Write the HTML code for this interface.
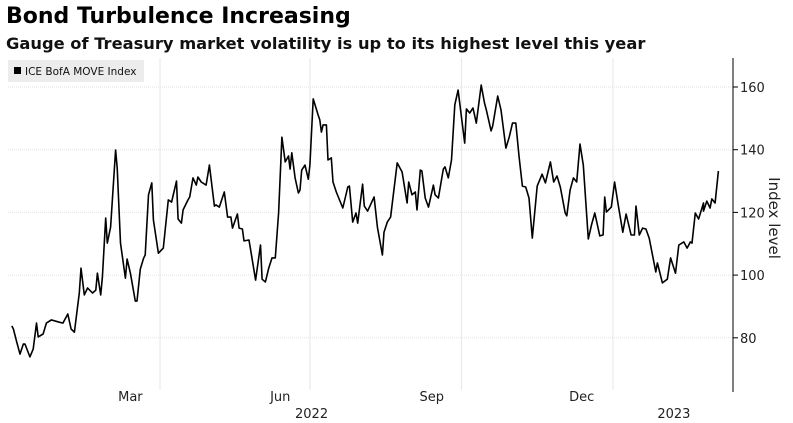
<!DOCTYPE html>
<html><head><meta charset="utf-8"><style>
body{margin:0;background:#fff;width:793px;height:423px;overflow:hidden;font-family:"DejaVu Sans","Liberation Sans",sans-serif;}
#t{position:absolute;left:6px;top:4px;font-size:22px;font-weight:bold;color:#000;white-space:nowrap;}
#s{position:absolute;left:6px;top:34px;font-size:16.3px;font-weight:bold;color:#111;white-space:nowrap;}
svg{position:absolute;left:0;top:0;font-family:"DejaVu Sans","Liberation Sans",sans-serif;}
</style></head><body>
<div id="t">Bond Turbulence Increasing</div>
<div id="s">Gauge of Treasury market volatility is up to its highest level this year</div>
<svg id="c" width="793" height="423"></svg>
<script>
const days=[0,1,3,5,7,8,11,13,15,16,19,21,24,28,31,34,36,38,41,42,44,46,49,51,52,54,55,57,58,60,63,64,66,69,70,72,75,76,78,80,81,83,85,86,89,92,95,97,100,101,103,104,107,108,110,112,113,115,118,120,123,124,126,129,131,133,134,137,138,140,141,144,148,151,152,154,156,158,160,162,164,166,168,169,170,172,174,175,176,178,180,181,183,186,187,188,189,191,192,194,195,197,201,204,205,207,209,210,213,214,216,220,222,225,226,228,230,234,237,240,241,243,245,246,248,249,251,253,256,257,259,262,263,265,267,269,271,275,276,278,280,282,285,287,288,291,292,295,297,300,302,304,306,308,310,312,314,316,319,322,324,327,329,331,333,336,337,339,341,343,345,347,350,352,354,357,359,360,361,364,366,368,371,373,376,378,379,381,383,385,387,391,392,395,398,400,403,405,408,410,412,413,415,417,420,420,422,424,425,427,429];
const values=[83.8,82.8,78.7,74.8,78,78,73.9,76.4,84.7,80.3,81.2,84.7,85.7,85.1,84.7,87.6,82.8,81.8,94.3,102.2,93.7,95.9,94.3,95.2,100.6,93.7,99.4,118.2,110.2,115.3,139.9,134.2,110.2,99,105.1,100.6,91.7,91.7,101.9,105.4,106.4,125.6,129.4,117.6,107,108.6,124,123.3,130,117.9,116.6,120.8,124,124.9,131,128.7,131.3,129.7,128.7,135.1,122,122.4,121.7,126.5,118.5,118.5,115,119.5,115,114.7,110.9,111.2,98.4,109.6,98.7,97.8,102.2,105.5,105.5,119.8,144,136.1,138,133.8,139,131,126.2,127.1,133.5,135.1,130.6,135.1,156.2,151.1,149.5,145.6,147.9,147.9,136.7,137.4,129.7,126.5,121.4,128.1,128.4,116.9,119.8,116.6,129,122,120.4,124.9,115.3,106.4,113.7,116.9,118.5,135.8,132.9,123,129.7,125.6,126.5,120.8,133.5,133.2,124.6,121.7,128.7,125.6,124.6,133.8,134.5,131,136.7,154.3,159,142.1,153,151.7,153.3,148.5,160.6,154.9,153,146,147.6,157.1,152.7,140.5,144,148.5,148.5,137.7,128.4,128.1,124.6,111.8,128.4,132.2,129.4,136.1,129.7,131.6,128.1,119.8,118.9,127.1,131,129.7,141.8,135.1,111.5,116,119.8,112.5,112.8,124.9,120.1,121.7,129.7,123,113.7,119.5,112.8,112.8,122,112.8,115,114.7,111.8,101,103.9,97.5,98.7,105.5,100.6,109.6,110.6,108.6,110.6,110.2,119.8,117.9,123,120.4,123.6,121.4,124.3,123,133.2];
const yTicks=[80,100,120,140,160];
const monthLabels=["Mar","Jun","Sep","Dec"];
const monthLabelDays=[72,163,255,346];
const quarterDays=[90,181,273,365];
const yearLabels=["2022","2023"];
const yearLabelDays=[182,402];

const NS="http://www.w3.org/2000/svg";
const svg=document.getElementById('c');
const X=d=>11.8+d*1.647;
const Y=v=>87+(160-v)*3.135;
const L=8,R=733,T=58,B=385;
function mk(tag,attrs){const e=document.createElementNS(NS,tag);for(const k in attrs)e.setAttribute(k,attrs[k]);svg.appendChild(e);return e;}
yTicks.forEach(v=>{
  const g=mk('line',{x1:L,x2:R,y1:Y(v),y2:Y(v),stroke:'#e2e2e2','stroke-width':1,'stroke-dasharray':'1,1'});
  
  
  const tk=mk('line',{x1:R,x2:R+5,y1:Y(v),y2:Y(v),stroke:'#000'});
  
  
  const t=mk('text',{x:R+7,y:Y(v)+5,'font-size':13,fill:'#222'});
  t.textContent=v;
  
  
});
quarterDays.forEach(d=>{
  const g=mk('line',{x1:X(d),x2:X(d),y1:T,y2:B+5,stroke:'#e6e6e6','stroke-width':1});
  
  
});
monthLabels.forEach((m,i)=>{
  const t=mk('text',{x:X(monthLabelDays[i]),y:401,'font-size':13,fill:'#222','text-anchor':'middle'});
  t.textContent=m;
  
  
});
yearLabels.forEach((m,i)=>{
  const t=mk('text',{x:X(yearLabelDays[i]),y:418,'font-size':13,fill:'#222','text-anchor':'middle'});
  t.textContent=m;
  
  
});
const ax=mk('line',{x1:R,x2:R,y1:T,y2:392,stroke:'#000','stroke-width':1});


const yt=mk('text',{x:0,y:0,'font-size':15,fill:'#222','text-anchor':'middle',transform:'translate(769,218) rotate(90)'});
yt.textContent='Index level';


const p=mk('path',{d:days.map((d,i)=>(i?'L':'M')+X(d).toFixed(1)+','+Y(values[i]).toFixed(1)).join(''),fill:'none',stroke:'#000','stroke-width':1.6,'stroke-linejoin':'round'});


const lb=mk('rect',{x:8,y:60,width:136,height:22,fill:'#ececec'});


const ls=mk('rect',{x:14,y:67,width:7,height:7,fill:'#000'});


const lt=mk('text',{x:25,y:75,'font-size':10.5,fill:'#111'});
lt.textContent='ICE BofA MOVE Index';


</script>
</body></html>
